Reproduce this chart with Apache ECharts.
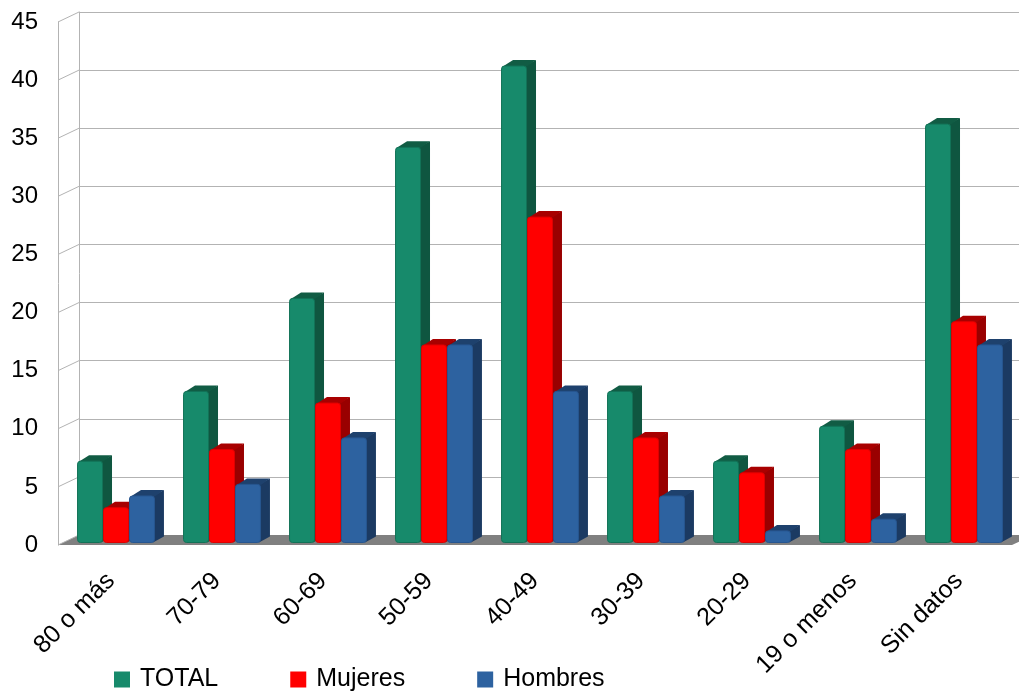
<!DOCTYPE html>
<html><head><meta charset="utf-8">
<script src="https://cdn.jsdelivr.net/npm/echarts@6/dist/echarts.min.js"></script>
<style>html,body{margin:0;padding:0;background:#fff}#c{width:1019px;height:693px}</style>
</head><body><div id="c"></div>
<script>
const categories = ['80 o más','70-79','60-69','50-59','40-49','30-39','20-29','19 o menos','Sin datos'];
const total = [7,13,21,34,41,13,7,10,36];
const mujeres = [3,8,12,17,28,9,6,8,19];
const hombres = [4,5,9,17,13,4,1,2,17];
const yTicks = [0,5,10,15,20,25,30,35,40,45];
const seriesNames = ['TOTAL','Mujeres','Hombres'];
const seriesValues = [total, mujeres, hombres];

const FONT = '"Liberation Sans", Arial, sans-serif';
const WALL_DX = 21, WALL_DY = 10, BAR_DX = 11, BAR_DY = 6, SHIFT_X = 5, SHIFT_Y = 2.5;
const GRID_COLOR = '#b3b3b3';
const palette = [
  {front:'#178a6b', side:'#0f5640', top:'#115c44', edge:'#127257'},
  {front:'#ff0000', side:'#990000', top:'#a80000', edge:'#dd0000'},
  {front:'#2d62a0', side:'#1b3a62', top:'#1e416d', edge:'#275690'}
];

const chart = echarts.init(document.getElementById('c'), null, {renderer:'canvas'});

function barRender(s){
  return function(params, api){
    const i = api.value(0), v = api.value(1);
    const top = api.coord([i, v]);
    const base = api.coord([i, 0]);
    const band = api.size([1, 0])[0];
    const w = band * 0.245;
    const x0 = top[0] - 1.5 * w + SHIFT_X + s * w;
    const yT = top[1] - SHIFT_Y, yB = base[1] - SHIFT_Y;
    const c = palette[s];
    return {type:'group', children:[
      {type:'polygon', shape:{points:[[x0+w-2,yT],[x0+w-2+BAR_DX,yT-BAR_DY],[x0+w-2+BAR_DX,yB-BAR_DY],[x0+w-2,yB]]}, style:{fill:c.side}},
      {type:'polygon', shape:{points:[[x0+1,yT+1],[x0+1+BAR_DX,yT-BAR_DY],[x0+w-2+BAR_DX,yT-BAR_DY],[x0+w-1,yT+1]]}, style:{fill:c.top}},
      {type:'rect', shape:{x:x0+0.5, y:yT, width:w-1, height:yB-yT, r:3}, style:{fill:c.front, stroke:c.edge, lineWidth:1}}
    ]};
  };
}

const series = [
  {
    type:'custom', xAxisIndex:0, yAxisIndex:0, silent:true, z:1,
    data:[[0,0]],
    renderItem:function(params, api){
      const cs = params.coordSys;
      const y = api.coord([0,0])[1];
      const x1 = cs.x, x2 = cs.x + cs.width;
      return {type:'polygon', shape:{points:[[x1,y],[x2,y],[x2+WALL_DX,y-WALL_DY],[x1+WALL_DX,y-WALL_DY]]}, style:{fill:'#808080'}};
    }
  },
  {
    type:'custom', xAxisIndex:0, yAxisIndex:0, silent:true, z:1,
    data:yTicks.map(v => [0, v]),
    renderItem:function(params, api){
      const cs = params.coordSys;
      const y = api.coord([0, api.value(1)])[1];
      return {type:'line', shape:{x1:cs.x, y1:y, x2:cs.x+WALL_DX, y2:y-WALL_DY}, style:{stroke:GRID_COLOR, lineWidth:1}};
    }
  }
];
seriesNames.forEach((name, s) => {
  series.push({
    type:'custom', name:name, xAxisIndex:0, yAxisIndex:0, silent:true, z:2,
    itemStyle:{color:palette[s].front},
    encode:{x:0, y:1},
    data:seriesValues[s].map((v, i) => [i, v]),
    renderItem:barRender(s)
  });
});

chart.setOption({
  animation:false,
  backgroundColor:'#ffffff',
  textStyle:{fontFamily:FONT},
  grid:[
    {left:58, right:7, top:22, bottom:148},
    {left:58+WALL_DX, right:0, top:22-WALL_DY, bottom:148+WALL_DY}
  ],
  legend:{
    left:114, top:667, padding:0, icon:'rect', itemWidth:16, itemHeight:16, itemGap:72,
    textStyle:{fontFamily:FONT, fontSize:25, color:'#000', padding:[0,0,0,5]},
    data:seriesNames
  },
  xAxis:[
    {type:'category', gridIndex:0, data:categories, boundaryGap:true,
     axisLine:{show:false}, axisTick:{show:false}, splitLine:{show:false},
     axisLabel:{rotate:45, fontSize:25, color:'#000', fontFamily:FONT, margin:32, interval:0}},
    {type:'category', gridIndex:1, data:categories, show:false}
  ],
  yAxis:[
    {type:'value', gridIndex:0, min:0, max:45, interval:5,
     axisLine:{show:true, lineStyle:{color:GRID_COLOR, width:1}}, axisTick:{show:false},
     splitLine:{show:false},
     axisLabel:{fontSize:24, color:'#000', fontFamily:FONT, margin:20, padding:[6,0,0,0]}},
    {type:'value', gridIndex:1, min:0, max:45, interval:5,
     axisLine:{show:true, lineStyle:{color:GRID_COLOR, width:1}}, axisTick:{show:false},
     axisLabel:{show:false},
     splitLine:{show:true, lineStyle:{color:GRID_COLOR, width:1}}}
  ],
  series:series
});
</script></body></html>
